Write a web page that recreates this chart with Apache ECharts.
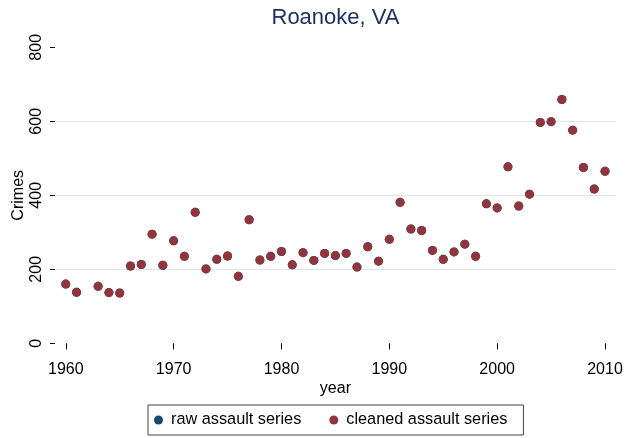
<!DOCTYPE html>
<html>
<head>
<meta charset="utf-8">
<script src="https://cdn.jsdelivr.net/npm/echarts@6/dist/echarts.min.js"></script>
<style>html,body{margin:0;padding:0;background:#fff}#c{width:636px;height:438px}</style>
</head>
<body>
<div id="c"></div>
<script>
const years = [1960,1961,1962,1963,1964,1965,1966,1967,1968,1969,1970,1971,1972,1973,1974,1975,1976,1977,1978,1979,1980,1981,1982,1983,1984,1985,1986,1987,1988,1989,1990,1991,1992,1993,1994,1995,1996,1997,1998,1999,2000,2001,2002,2003,2004,2005,2006,2007,2008,2009,2010];
const rawAssault = [160,138,null,154,137,136,209,213,295,211,277,235,354,201,227,236,181,334,225,235,248,212,245,224,243,237,243,206,261,222,281,381,309,305,251,227,247,268,235,377,366,477,371,403,597,599,659,576,475,417,465];
const cleanedAssault = [160,138,null,154,137,136,209,213,295,211,277,235,354,201,227,236,181,334,225,235,248,212,245,224,243,237,243,206,261,222,281,381,309,305,251,227,247,268,235,377,366,477,371,403,597,599,659,576,475,417,465];
const xTicks = [1960,1970,1980,1990,2000,2010];
const yTicks = [0,200,400,600,800];
const seriesNames = ['raw assault series','cleaned assault series'];

const FONT = "'Liberation Sans', Arial, Helvetica, sans-serif";
function pairs(vals){ const out=[]; years.forEach((y,i)=>{ if(vals[i]!==null) out.push([y,vals[i]]); }); return out; }

const chart = echarts.init(document.getElementById('c'), null, {renderer:'canvas'});
chart.setOption({
  animation:false,
  backgroundColor:'#ffffff',
  textStyle:{fontFamily:FONT},
  title:{
    text:'Roanoke, VA', left:335.5, textAlign:'center', top:7, padding:0,
    textStyle:{fontFamily:FONT, fontSize:22, fontWeight:'normal', color:'#1e3160'}
  },
  legend:{
    data:seriesNames.map(n=>({name:n, icon:'circle', itemStyle:{opacity:1}})),
    left:148, top:405, orient:'horizontal',
    itemWidth:15, itemHeight:9, itemGap:28,
    padding:[7,16,7,6],
    borderColor:'#404040', borderWidth:1,
    textStyle:{fontFamily:FONT, fontSize:16.3, color:'#000'}
  },
  grid:{left:55, right:20.2, top:47.3, bottom:94.7, containLabel:false, outerBoundsMode:'none'},
  xAxis:{
    type:'value', min:1959, max:2011,
    offset:10,
    name:'year', nameLocation:'middle', nameGap:27, nameMoveOverlap:false,
    nameTextStyle:{fontFamily:FONT, fontSize:16, color:'#000'},
    axisLine:{show:false},
    axisTick:{show:true, inside:false, length:6, lineStyle:{color:'#000', width:1}, customValues:xTicks},
    axisLabel:{show:true, margin:8, fontFamily:FONT, fontSize:16, color:'#000', customValues:xTicks,
      formatter:v=>String(v)},
    splitLine:{show:false}
  },
  yAxis:{
    type:'value', min:0, max:800, interval:200,
    name:'Crimes', nameLocation:'middle', nameGap:28, nameRotate:90, nameMoveOverlap:false,
    nameTextStyle:{fontFamily:FONT, fontSize:16, color:'#000'},
    axisLine:{show:false},
    axisTick:{show:true, inside:false, length:5, lineStyle:{color:'#000', width:1}},
    axisLabel:{show:true, rotate:90, margin:10, fontFamily:FONT, fontSize:16, color:'#000'},
    splitLine:{show:true, showMinLine:false, showMaxLine:false, lineStyle:{color:'#dbe6e8', width:1}}
  },
  series:[
    {name:seriesNames[0], type:'scatter', data:pairs(rawAssault), symbol:'circle', symbolSize:9,
     itemStyle:{color:'#1a476f', opacity:1}, z:2},
    {name:seriesNames[1], type:'scatter', data:pairs(cleanedAssault), symbol:'circle', symbolSize:9,
     itemStyle:{color:'#90353b', opacity:1}, z:3}
  ]
});
</script>
</body>
</html>
